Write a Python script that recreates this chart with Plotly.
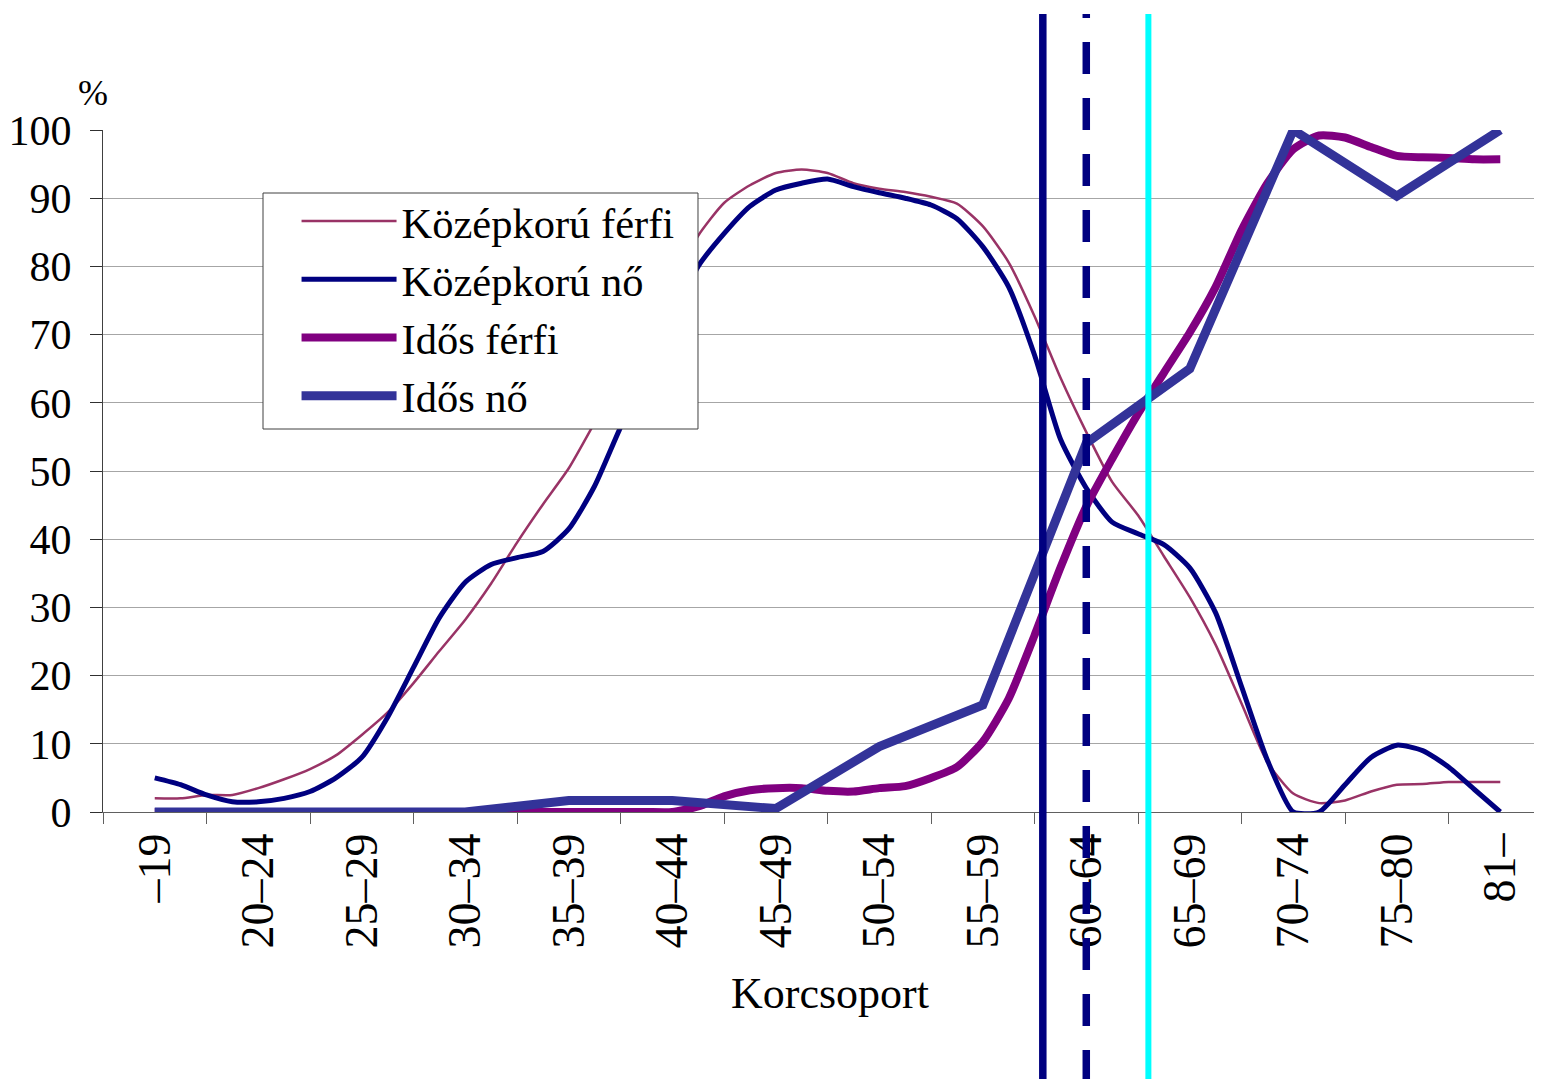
import numpy as np
import plotly.graph_objects as go

# ---- data -------------------------------------------------------------
age_groups = ["–19", "20–24", "25–29", "30–34", "35–39", "40–44", "45–49",
              "50–54", "55–59", "60–64", "65–69", "70–74", "75–80", "81–"]

# the two "Középkorú" series and "Idős férfi" are sampled four times per age group
sample_pos = np.arange(0, 13.001, 0.25)

kozepkoru_ferfi = [2.0, 2.0, 2.5, 2.5,
                   3.5, 4.8, 6.3, 8.3,
                   11.3, 14.6, 18.9, 23.6,
                   28.2, 33.5, 39.5, 45.1,
                   50.4, 57.1, 64.0, 71.0,
                   77.5, 84.5, 89.3, 91.9,
                   93.7, 94.2, 93.7, 92.2,
                   91.4, 90.9, 90.2, 89.2,
                   85.9, 80.6, 72.7, 63.7,
                   55.7, 48.4, 43.5, 37.5,
                   31.5, 24.5, 15.9, 7.3,
                   2.7, 1.3, 1.7, 3.0,
                   4.0, 4.1, 4.4, 4.4,
                   4.4]

kozepkoru_no = [5.0, 4.0, 2.5, 1.5,
                1.5, 2.0, 3.0, 5.0,
                8.0, 13.9, 21.2, 28.5,
                33.7, 36.3, 37.3, 38.2,
                41.5, 47.8, 56.4, 64.0,
                72.0, 80.0, 84.8, 88.8,
                91.2, 92.2, 92.8, 91.7,
                90.8, 90.0, 89.0, 87.0,
                82.9, 77.0, 67.0, 54.7,
                47.5, 42.5, 40.8, 39.2,
                35.8, 29.2, 18.4, 7.6,
                0.0, 0.0, 4.0, 8.0,
                9.8, 9.0, 6.6, 3.3,
                0.0]

idos_ferfi = [0.0, 0.0, 0.0, 0.0,
              0.0, 0.0, 0.0, 0.0,
              0.0, 0.0, 0.0, 0.0,
              0.0, 0.0, 0.0, 0.0,
              0.0, 0.0, 0.0, 0.0,
              0.0, 0.8, 2.3, 3.2,
              3.5, 3.5, 3.1, 3.0,
              3.5, 3.8, 5.0, 6.6,
              10.3, 16.6, 25.9, 35.8,
              44.8, 51.8, 58.4, 64.4,
              70.3, 77.0, 85.3, 92.2,
              97.2, 99.2, 98.9, 97.5,
              96.2, 96.0, 95.9, 95.7,
              95.7]

# "Idős nő" has one value per age group
idos_no = [0.0, 0.0, 0.0, 0.0, 1.7, 1.7, 0.5, 9.6, 15.7, 54.1, 65.0, 100.0, 90.3, 100.0]

# vertical reference lines (position on the age-group axis)
ref_lines = [8.58, 9.0, 9.6]

FONT = "Liberation Serif"

fig = go.Figure()
fig.add_trace(go.Scatter(x=sample_pos, y=kozepkoru_ferfi, mode="lines", name="Középkorú férfi",
                         line=dict(color="#993366", width=2.5, shape="spline", smoothing=0.6)))
fig.add_trace(go.Scatter(x=sample_pos, y=kozepkoru_no, mode="lines", name="Középkorú nő",
                         line=dict(color="#000080", width=5, shape="spline", smoothing=0.6)))
fig.add_trace(go.Scatter(x=sample_pos, y=idos_ferfi, mode="lines", name="Idős férfi",
                         line=dict(color="#800080", width=8, shape="spline", smoothing=0.6)))
fig.add_trace(go.Scatter(x=list(range(len(age_groups))), y=idos_no, mode="lines", name="Idős nő",
                         line=dict(color="#333399", width=9)))

styles = [dict(color="#000080", width=7.5, dash="solid"),
          dict(color="#000080", width=7.5, dash="4px,24px,28px,0px"),
          dict(color="#00FFFF", width=6, dash="solid")]
for xv, st in zip(ref_lines, styles):
    fig.add_shape(type="line", xref="x", yref="paper", x0=xv, x1=xv, y0=1.170, y1=-0.42,
                  line=st, layer="above")

# legend frame
fig.add_shape(type="rect", xref="paper", yref="paper",
              x0=0.11119, x1=0.41348, y0=0.56158, y1=0.90762,
              fillcolor="white", line=dict(color="#404040", width=1), layer="above")

fig.update_layout(
    width=1534, height=1071,
    margin=dict(l=95, r=0, t=122, b=267),
    plot_bgcolor="white", paper_bgcolor="white",
    font=dict(family=FONT, color="black", size=42),
    showlegend=True,
    legend=dict(x=0.1345, y=0.9165, xanchor="left", yanchor="top",
                bgcolor="rgba(0,0,0,0)", borderwidth=0,
                font=dict(family=FONT, size=42.5, color="black"),
                itemwidth=95),
    xaxis=dict(range=[-0.5, 13.403], tickmode="array",
               tickvals=list(range(len(age_groups))), ticktext=age_groups,
               tickangle=-90, ticks="", showgrid=False, zeroline=False,
               showline=True, linecolor="#606060", linewidth=1,
               tickfont=dict(family=FONT, size=46, color="black"),
               ticklabelstandoff=2,
               minor=dict(ticks="outside", tick0=-0.5, dtick=1, ticklen=11,
                          tickcolor="#606060", tickwidth=1, showgrid=False)),
    yaxis=dict(range=[0, 100], tick0=0, dtick=10, ticks="outside", ticklen=12,
               tickcolor="#303030", tickwidth=1,
               showline=True, linecolor="#404040", linewidth=1,
               showgrid=True, gridcolor="#a6a6a6", gridwidth=1, zeroline=False,
               tickfont=dict(family=FONT, size=42, color="black"),
               ticklabelstandoff=10),
)

fig.add_annotation(text="%", xref="paper", yref="paper", x=-0.00695, y=1.0543,
                   xanchor="center", yanchor="middle", showarrow=False,
                   font=dict(family=FONT, size=36, color="black"))
fig.add_annotation(text="Korcsoport", xref="paper", yref="paper", x=0.5052, y=-0.2654,
                   xanchor="center", yanchor="middle", showarrow=False,
                   font=dict(family=FONT, size=44, color="black"))

fig.write_html("out.html")
